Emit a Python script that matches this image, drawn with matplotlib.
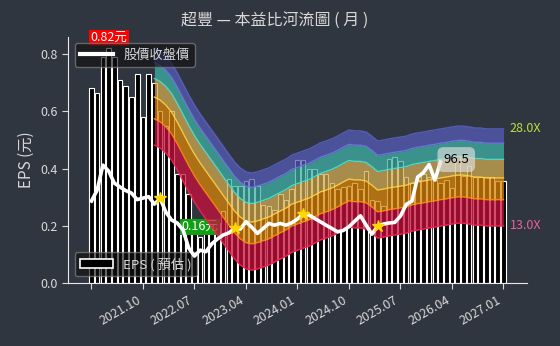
import numpy as np
import matplotlib
matplotlib.use('Agg')
import matplotlib.pyplot as plt
from matplotlib.patches import Patch
from matplotlib.lines import Line2D

plt.rcParams['font.family'] = ['Noto Sans CJK TC', 'DejaVu Sans']

# ---------------- data ----------------
tick_pos = [0, 9, 18, 27, 36, 45, 54, 63, 72]
tick_labels = ['', '2021.10', '2022.07', '2023.04', '2024.01', '2024.10', '2025.07', '2026.04', '2027.01']

eps = [0.68, 0.665, 0.79, 0.82, 0.79, 0.71, 0.69, 0.65, 0.73, 0.58,
       0.73, 0.70, 0.60, 0.55, 0.60, 0.38, 0.38, 0.31, 0.21, 0.16,
       0.18, 0.19, 0.21, 0.25, 0.365, 0.34, 0.34, 0.355, 0.365, 0.338,
       0.274, 0.27, 0.256, 0.31, 0.29, 0.33, 0.43, 0.43, 0.40, 0.40,
       0.38, 0.38, 0.35, 0.33, 0.335, 0.34, 0.35, 0.33, 0.393, 0.29,
       0.285, 0.27, 0.435, 0.442, 0.428, 0.37, 0.35, 0.36, 0.38, 0.37,
       0.36, 0.35, 0.36, 0.333, 0.443, 0.375, 0.41, 0.372, 0.372, 0.37,
       0.371, 0.355, 0.355]

price = [70.9, 77.3, 94.2, 89.9, 81.7, 79.2, 77.0, 75.5, 71.7, 72.6,
         73.4, 69.2, 72.4, 65.0, 61.0, 59.6, 56.4, 48.9, 45.9, 48.1,
         47.5, 50.5, 52.5, 54.2, 55.1, 57.1, 56.8, 60.2, 57.7, 54.9,
         57.1, 59.4, 58.6, 59.4, 58.6, 59.7, 61.5, 64.2, 63.5, 61.8,
         60.2, 58.6, 57.1, 55.6, 56.2, 57.9, 60.5, 63.1, 58.6, 54.6,
         58.0, 59.1, 59.6, 59.9, 63.0, 69.0, 70.9, 85.7, 88.8, 94.6,
         83.7, 96.5]

band_start = 11
eps_ttm = [8.49, 8.29, 7.97, 7.54, 6.97, 6.39, 5.86, 5.41, 5.04, 4.73,
           4.44, 4.17, 3.91, 3.67, 3.45, 3.29, 3.19, 3.16, 3.19, 3.24,
           3.29, 3.37, 3.45, 3.53, 3.64, 3.70, 3.76, 3.82, 3.91, 4.01,
           4.07, 4.14, 4.23, 4.34, 4.44, 4.41, 4.41, 4.37, 4.23, 4.07,
           4.10, 4.14, 4.17, 4.20, 4.23, 4.30, 4.34, 4.37, 4.41, 4.44,
           4.48, 4.51, 4.55, 4.58, 4.58, 4.55, 4.51, 4.51, 4.48, 4.48,
           4.48, 4.48]

pe_multiples = [13, 16, 19, 22, 25, 28]
star_idx = [12, 25, 37, 50]

# ---------------- style ----------------
bg = '#30363f'
txt = '#d8d8d8'
fill_colors = ['#c8103c', '#d88408', '#d2aa50', '#3fb0a6', '#555cb8']
line_colors = ['#ff1f4f', '#ff8a10', '#ffd040', '#4ee0d0', '#7078e0', '#5860c0']

fig = plt.figure(figsize=(5.6, 3.46), dpi=100, facecolor=bg)
ax = fig.add_axes([0.1214, 0.1821, 0.8196, 0.7119])
ax.set_facecolor(bg)

x = np.arange(len(eps))
ax.bar(x, eps, width=0.8, color='black', edgecolor='white', linewidth=0.8, zorder=2)
ax.set_xlim(-4.1, 76.1)
ax.set_ylim(0, 0.861)
ax.set_yticks([0.0, 0.2, 0.4, 0.6, 0.8])
ax.set_yticklabels(['0.0', '0.2', '0.4', '0.6', '0.8'])
ax.set_xticks(tick_pos)
ax.set_xticklabels(tick_labels, rotation=30, ha='right')
ax.tick_params(colors=txt, labelsize=9, length=4)
for s in ['top', 'right']:
    ax.spines[s].set_visible(False)
for s in ['left', 'bottom']:
    ax.spines[s].set_color('#e8e8e8')
ax.set_ylabel('EPS (元)', color=txt, fontsize=11)
fig.text(0.49, 0.94, '超豐 — 本益比河流圖 ( 月 )', color=txt, fontsize=11.5,
         ha='center', va='center')

# max/min labels
imax = int(np.argmax(eps)); imin = int(np.argmin(eps))
ax.text(imax, eps[imax] + 0.036, f'{eps[imax]:.2f}元', ha='center', va='center',
        color='white', fontsize=9, zorder=5,
        bbox=dict(facecolor='#ff0000', edgecolor='none', pad=1.2))
ax.text(imin, eps[imin] + 0.036, f'{eps[imin]:.2f}元', ha='center', va='center',
        color='white', fontsize=9, zorder=5,
        bbox=dict(facecolor='#11a011', edgecolor='none', pad=1.2))

leg2 = ax.legend([Patch(facecolor='black', edgecolor='white', linewidth=1.2)], ['EPS ( 預估 )'],
                 loc='lower left', fontsize=9.5, facecolor='#111111', edgecolor='#888888',
                 framealpha=0.65, labelcolor=txt, handlelength=2.5)

# ---------------- twin axis: river + price ----------------
ax2 = ax.twinx()
ax2.set_yscale('log')
ax2.set_ylim(37.1, 260)
ax2.set_yticks([])
ax2.minorticks_off()
ax2.yaxis.set_visible(False)
for s in ax2.spines.values():
    s.set_visible(False)

bx = np.arange(band_start, band_start + len(eps_ttm))
et = np.array(eps_ttm)
lines = [m * et for m in pe_multiples]
for i in range(len(pe_multiples) - 1):
    ax2.fill_between(bx, lines[i], lines[i + 1], color=fill_colors[i], alpha=0.75,
                     linewidth=0, zorder=1)
for i in range(len(pe_multiples)):
    ax2.plot(bx, lines[i], color=line_colors[i], lw=1.0, alpha=0.9, zorder=2)

ax2.text(bx[-1] + 1.1, lines[-1][-1], f'{pe_multiples[-1]:.1f}X', color='#b8e040',
         fontsize=9, va='center', ha='left')
ax2.text(bx[-1] + 1.1, lines[0][-1], f'{pe_multiples[0]:.1f}X', color='#e8609a',
         fontsize=9, va='center', ha='left')

px = np.arange(len(price))
ax2.plot(px, price, color='white', lw=2.6, zorder=4)
ax2.plot(star_idx, [price[i] for i in star_idx], linestyle='none', marker='*',
         color='#ffd700', markersize=9, zorder=5)
ax2.text(px[-1] + 0.5, price[-1] * 1.02, f'{price[-1]}', color='black', fontsize=9.5,
         va='center', ha='left', zorder=6,
         bbox=dict(boxstyle='round,pad=0.45', facecolor='#e0e0e0', edgecolor='none', alpha=0.65))

leg1 = ax2.legend([Line2D([0], [0], color='white', lw=3)], ['股價收盤價'],
                  loc='upper left', fontsize=9.5, facecolor='#111111', edgecolor='#888888',
                  framealpha=0.65, labelcolor=txt, handlelength=2.5)

fig.savefig('out.png', dpi=100, facecolor=bg)
